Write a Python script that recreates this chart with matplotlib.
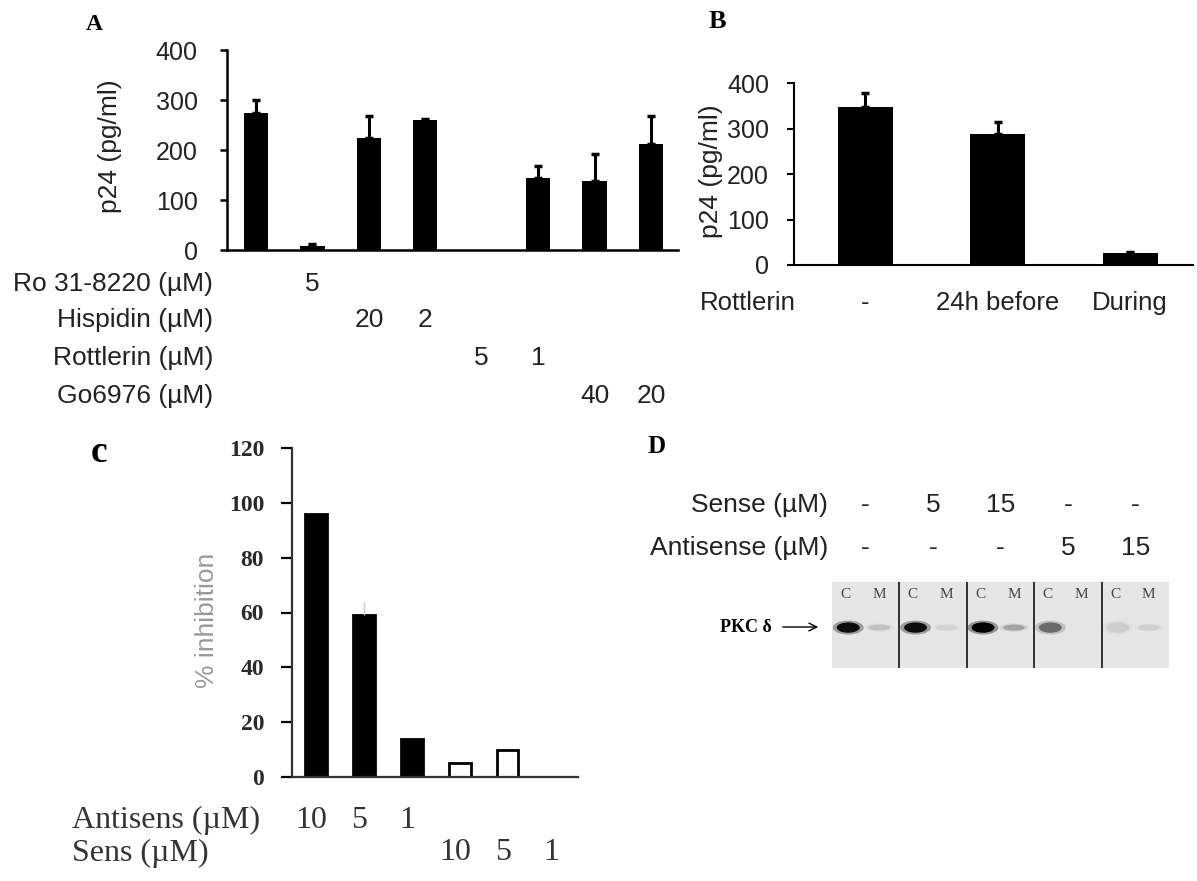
import matplotlib
matplotlib.use("Agg")
import matplotlib.pyplot as plt
import matplotlib.transforms as mtransforms
from matplotlib.patches import Ellipse, FancyArrowPatch
import numpy as np

W, H = 1197, 881
SANS = ["Liberation Sans", "DejaVu Sans"]
SERIF = ["Liberation Serif", "DejaVu Serif"]
INK = "#222222"

# %% data

# A: p24 with PKC inhibitors
a_values = [275, 8, 225, 260, 0, 145, 138, 213]
a_errors = [25, 4, 43, 2, 0, 23, 54, 56]
a_rows = ["Ro 31-8220 (µM)", "Hispidin (µM)", "Rottlerin (µM)", "Go6976 (µM)"]
a_doses = [
    ["", "5", "", "", "", "", "", ""],
    ["", "", "20", "2", "", "", "", ""],
    ["", "", "", "", "5", "1", "", ""],
    ["", "", "", "", "", "", "40", "20"],
]
a_ticks = [0, 100, 200, 300, 400]

# B: rottlerin timing
b_categories = ["-", "24h before", "During"]
b_values = [347, 288, 26]
b_errors = [32, 26, 2]
b_ticks = [0, 100, 200, 300, 400]

# c: % inhibition, antisense vs sense
c_values = [96, 59, 14, 5, 10]
c_errors = [0, 5, 0, 0, 0]
c_filled = [True, True, True, False, False]
c_antisens = ["10", "5", "1", "", "", ""]
c_sens = ["", "", "", "10", "5", "1"]
c_ticks = [0, 20, 40, 60, 80, 100, 120]

# D: western blot
d_sense = ["-", "5", "15", "-", "-"]
d_antisense = ["-", "-", "-", "5", "15"]
d_band_c = [0.92, 0.92, 1.0, 0.45, 0.08]
d_band_m = [0.12, 0.06, 0.22, 0.0, 0.07]

# %% helpers

fig = plt.figure(figsize=(W / 100, H / 100), dpi=100)


def box(x0, y0, x1, y1):
    """Axes from pixel corners (top-left origin)."""
    return fig.add_axes([x0 / W, 1 - y1 / H, (x1 - x0) / W, (y1 - y0) / H])


def fx(x):
    return x / W


def fy(y):
    return 1 - y / H


def style_axes(ax, lw, tick_len, pad, size, family, weight="normal", color=INK):
    ax.spines[["top", "right"]].set_visible(False)
    ax.spines["left"].set_linewidth(lw)
    ax.spines["bottom"].set_linewidth(lw)
    ax.tick_params(axis="y", direction="out", length=tick_len, width=lw,
                   pad=pad, labelsize=size, labelcolor=color)
    ax.tick_params(axis="x", length=0, labelbottom=False)
    for lab in ax.get_yticklabels():
        lab.set_family(family)
        lab.set_fontweight(weight)
    ax.set_facecolor("none")


def upper_errors(ax, x, values, errors, **kw):
    idx = [i for i, e in enumerate(errors) if e > 0]
    ax.errorbar(np.asarray(x)[idx], np.asarray(values)[idx],
                yerr=[np.zeros(len(idx)), np.asarray(errors)[idx]],
                fmt="none", **kw)


# %% panel A

ax_a = box(227, 50, 678, 250)
xa = np.arange(len(a_values))
ax_a.bar(xa, a_values, width=0.43, color="black")
upper_errors(ax_a, xa, a_values, a_errors, ecolor="black", elinewidth=2.2,
             capsize=3, capthick=2.5)
ax_a.set_xlim(-0.514, 7.48)
ax_a.set_ylim(0, 400)
ax_a.set_yticks(a_ticks)
style_axes(ax_a, 1.8, 5, 16, 18, SANS)

fig.text(fx(94), fy(25), "A", family=SERIF, weight="bold", size=17,
         ha="center", va="center")
fig.text(fx(110), fy(146), "p24 (pg/ml)", family=SANS, size=19, color=INK,
         rotation=90, ha="center", va="center")

tr_a = mtransforms.blended_transform_factory(ax_a.transData, fig.transFigure)
row_y = [284, 320, 358, 396]
for label, doses, y in zip(a_rows, a_doses, row_y):
    fig.text(fx(213), fy(y), label, family=SANS, size=19, color=INK,
             ha="right", va="center")
    for i, d in enumerate(doses):
        if d:
            ax_a.text(xa[i], fy(y), d, transform=tr_a, family=SANS, size=19,
                      color=INK, ha="center", va="center")

# %% panel B

ax_b = box(794, 83, 1193, 265)
xb = np.arange(len(b_values))
ax_b.bar(xb, b_values, width=0.415, color="black")
upper_errors(ax_b, xb, b_values, b_errors, ecolor="black", elinewidth=2.2,
             capsize=3, capthick=2.5)
ax_b.set_xlim(-0.536, 2.475)
ax_b.set_ylim(0, 400)
ax_b.set_yticks(b_ticks)
style_axes(ax_b, 1.5, 5, 13, 18, SANS)

fig.text(fx(717), fy(22), "B", family=SERIF, weight="bold", size=19,
         ha="center", va="center")
fig.text(fx(711), fy(171), "p24 (pg/ml)", family=SANS, size=19, color=INK,
         rotation=90, ha="center", va="center")

tr_b = mtransforms.blended_transform_factory(ax_b.transData, fig.transFigure)
fig.text(fx(700), fy(303), "Rottlerin", family=SANS, size=18.5, color=INK,
         ha="left", va="center")
for i, cat in enumerate(b_categories):
    ax_b.text(xb[i], fy(303), cat, transform=tr_b, family=SANS, size=18.5,
              color=INK, ha="center", va="center")

# %% panel c

ax_c = box(292, 448, 578, 777)
xc = np.arange(len(c_values))
ax_c.bar(xc, c_values, width=0.44,
         color=["black" if f else "white" for f in c_filled],
         edgecolor="black", linewidth=2)
upper_errors(ax_c, xc, c_values, c_errors, ecolor="#c8c8c8", elinewidth=1,
             capsize=0)
ax_c.set_xlim(-0.5, 5.46)
ax_c.set_ylim(0, 120)
ax_c.set_yticks(c_ticks)
style_axes(ax_c, 1.6, 8, 12, 17, SERIF, weight="bold", color="#2a2a2a")
ax_c.spines[["left", "bottom"]].set_color("#333333")

fig.text(fx(99), fy(452), "c", family=SERIF, weight="bold", size=27,
         ha="center", va="center")
fig.text(fx(207), fy(620), "% inhibition", family=SANS, size=19,
         color="#999999", rotation=90, ha="center", va="center")

tr_c = mtransforms.blended_transform_factory(ax_c.transData, fig.transFigure)
for label, doses, y in [("Antisens (µM)", c_antisens, 820),
                        ("Sens (µM)", c_sens, 853)]:
    fig.text(fx(72), fy(y), label, family=SERIF, size=23, color="#333333",
             ha="left", va="center")
    for i, d in enumerate(doses):
        if d:
            ax_c.text(i - 0.1, fy(y), d, transform=tr_c, family=SERIF,
                      size=23, color="#333333", ha="center", va="center")

# %% panel D

fig.text(fx(657), fy(447), "D", family=SERIF, weight="bold", size=18,
         ha="center", va="center")

ax_d = box(832, 582, 1169, 668)
ax_d.set_xlim(0, 5)
ax_d.set_ylim(0, 1)
ax_d.set_facecolor("#e6e6e6")
for s in ax_d.spines.values():
    s.set_visible(False)
ax_d.set_xticks([])
ax_d.set_yticks([])
for k in range(1, 5):
    ax_d.axvline(k, color="black", lw=1.1)

for k, (c_int, m_int) in enumerate(zip(d_band_c, d_band_m)):
    ax_d.text(k + 0.2, 0.86, "C", family=SERIF, size=11, color="#444444",
              ha="center", va="center")
    ax_d.text(k + 0.7, 0.86, "M", family=SERIF, size=11, color="#444444",
              ha="center", va="center")
    for scale, frac in [(1.35, 0.35), (1.0, 1.0)]:
        ax_d.add_patch(Ellipse((k + 0.24, 0.47), 0.34 * scale, 0.12 * scale,
                               color="black", alpha=c_int * frac, lw=0))
        if m_int > 0:
            ax_d.add_patch(Ellipse((k + 0.70, 0.47), 0.32 * scale,
                                   0.07 * scale, color="black",
                                   alpha=m_int * frac, lw=0))

tr_d = mtransforms.blended_transform_factory(ax_d.transData, fig.transFigure)
for label, vals, y in [("Sense (µM)", d_sense, 505), ("Antisense (µM)", d_antisense, 548)]:
    fig.text(fx(828), fy(y), label, family=SANS, size=19, color=INK,
             ha="right", va="center")
    for k, v in enumerate(vals):
        ax_d.text(k + 0.5, fy(y), v, transform=tr_d, family=SANS, size=19,
                  color=INK, ha="center", va="center")

fig.text(fx(746), fy(628), "PKC δ", family=SERIF, weight="bold", size=13,
         ha="center", va="center")
fig.add_artist(FancyArrowPatch((fx(780), fy(627)), (fx(821), fy(627)),
                               transform=fig.transFigure, arrowstyle="->",
                               mutation_scale=14, lw=1, color="black"))

plt.savefig("out.png", dpi=100)
